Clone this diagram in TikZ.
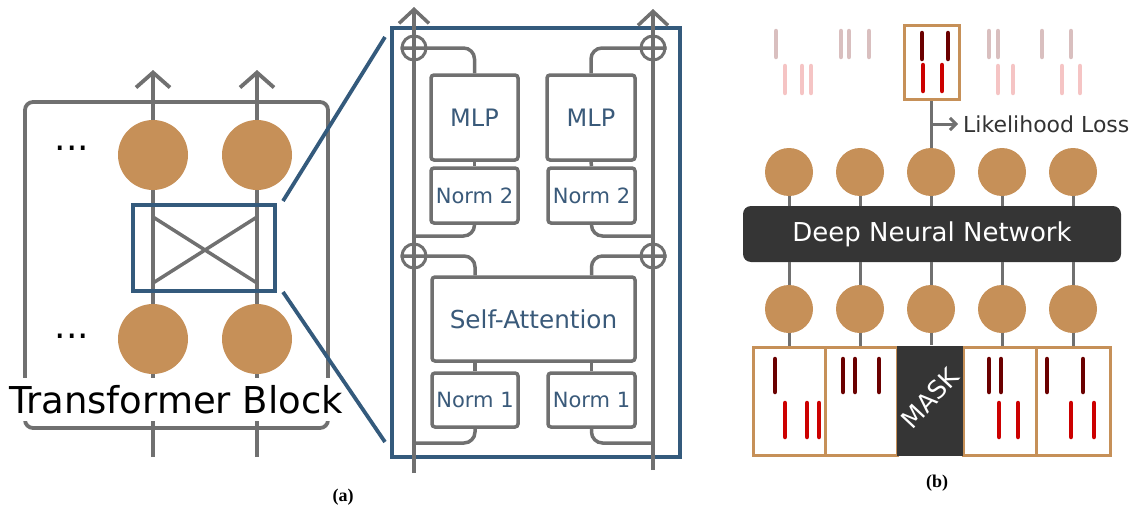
\documentclass[tikz,border=0pt]{standalone}
\usepackage{fontspec}
\setmainfont{DejaVu Sans}
\newfontfamily\labfont{Liberation Serif}
\usetikzlibrary{arrows.meta,calc}
\definecolor{lg}{RGB}{112,112,112}
\definecolor{tanc}{RGB}{198,144,88}
\definecolor{navy}{RGB}{52,90,124}
\definecolor{tb}{RGB}{58,90,122}
\definecolor{dk}{RGB}{53,53,53}
\definecolor{dred}{RGB}{107,0,0}
\definecolor{rred}{RGB}{204,0,0}
\definecolor{fdred}{RGB}{217,191,191}
\definecolor{frred}{RGB}{245,196,196}
\newcommand{\fs}[1]{\fontsize{#1}{#1}\selectfont}
\tikzset{
  gline/.style={draw=lg, line width=3.8pt},
  mline/.style={draw=lg, line width=3.5pt},
  rline/.style={draw=lg, line width=3pt},
  bline/.style={draw=navy, line width=3.8pt},
  bigtok/.style={circle, fill=tanc, minimum size=70pt, inner sep=0pt},
  tok/.style={circle, fill=tanc, minimum size=48pt, inner sep=0pt},
  mbox/.style={draw=lg, line width=3.5pt, rounded corners=3pt, text=tb, inner sep=0pt, fill=white},
  opl/.style={circle, draw=lg, line width=3pt, minimum size=24pt, inner sep=0pt},
  tokbox/.style={draw=tanc, line width=3pt, fill=white, inner sep=0pt, minimum width=72pt, minimum height=108pt},
  bar/.style={line width=4.5pt, line cap=round},
  upbarb/.style={-{Straight Barb[length=15pt,width=34pt]}},
  upbarbm/.style={-{Straight Barb[length=14pt,width=30pt]}},
}
\begin{document}
\begin{tikzpicture}[x=1pt,y=-1pt]
\path[use as bounding box] (0,0) rectangle (1135,514);

%% ---------------- panel (a), left ----------------
\node[draw=lg, line width=3.8pt, rounded corners=8pt, minimum width=303pt, minimum height=326pt, inner sep=0pt] (tblock) at (176.5,265) {};
\coordinate (a1b) at (153,457); \coordinate (a1t) at (153,70);
\coordinate (a2b) at (257,457); \coordinate (a2t) at (257,70);
\draw[gline, upbarb] (a1b) -- (a1t);
\draw[gline, upbarb] (a2b) -- (a2t);
\coordinate (x1) at (153,217); \coordinate (x2) at (257,283);
\coordinate (x3) at (153,283); \coordinate (x4) at (257,217);
\draw[gline, line width=3.5pt] (x1) -- (x2);
\draw[gline, line width=3.5pt] (x3) -- (x4);
\node[bline, minimum width=142pt, minimum height=86pt, inner sep=0pt] (xbox) at (204,248) {};
\node[bigtok] (c1) at (153,155) {};
\node[bigtok] (c2) at (257,155) {};
\node[bigtok] (c3) at (153,339) {};
\node[bigtok] (c4) at (257,339) {};
\node[font=\fs{36}] (d1) at (72,148) {...};
\node[font=\fs{36}] (d2) at (72,336) {...};
\node[fill=white, font=\fs{37}, inner xsep=1pt, inner ysep=7pt] (tbl) at (176,399.5) {Transformer Block};

%% ---------------- panel (a), right ----------------
\node[bline, minimum width=288pt, minimum height=429pt, inner sep=0pt] (blk) at (536,242.5) {};
\coordinate (z1) at (283,201); \coordinate (z2) at (385,37);
\coordinate (z3) at (283,292); \coordinate (z4) at (385,442);
\draw[bline] (z1) -- (z2);
\draw[bline] (z3) -- (z4);

\coordinate (L0) at (414,473); \coordinate (L1) at (414,7);
\coordinate (R0) at (653,470); \coordinate (R1) at (653,9);
\draw[mline, upbarbm] (L0) -- (L1);
\draw[mline, upbarbm] (R0) -- (R1);

\node[opl] (p1) at (414,48) {};
\node[opl] (p2) at (653,48) {};
\node[opl] (p3) at (414,256) {};
\node[opl] (p4) at (653,256) {};

\node[mbox, minimum width=87pt, minimum height=85pt, font=\fs{24}] (mlp1) at (474.5,117.5) {MLP};
\node[mbox, minimum width=88pt, minimum height=85pt, font=\fs{24}] (mlp2) at (591,117.5) {MLP};
\node[mbox, minimum width=87pt, minimum height=55pt, font=\fs{21}] (n2a) at (474.5,195.5) {Norm 2};
\node[mbox, minimum width=87pt, minimum height=55pt, font=\fs{21}] (n2b) at (591.5,195.5) {Norm 2};
\node[mbox, minimum width=203pt, minimum height=84pt, font=\fs{24.7}] (sa) at (533.5,319) {Self-Attention};
\node[mbox, minimum width=86pt, minimum height=54pt, font=\fs{21}] (n1a) at (475,400) {Norm 1};
\node[mbox, minimum width=87pt, minimum height=54pt, font=\fs{21}] (n1b) at (591.5,400) {Norm 1};

\draw[mline] (mlp1.south) -- (n2a.north);
\draw[mline] (mlp2.south) -- (n2b.north);
\draw[mline] (n1a.north) -- (n1a.north |- sa.south);
\draw[mline] (n1b.north) -- (n1b.north |- sa.south);

\draw[mline, rounded corners=11pt] (p1.west) -| (mlp1.north);
\draw[mline, rounded corners=11pt] (p2.east) -| (mlp2.north);
\draw[mline, rounded corners=11pt] (p3.west) -| (n1a.north |- sa.north);
\draw[mline, rounded corners=11pt] (p4.east) -| (n1b.north |- sa.north);

\coordinate (ja) at (414,236); \coordinate (jb) at (653,236);
\coordinate (jc) at (414,443); \coordinate (jd) at (653,443);
\draw[mline, rounded corners=11pt] (n2a.south) |- (ja);
\draw[mline, rounded corners=11pt] (n2b.south) |- (jb);
\draw[mline, rounded corners=11pt] (n1a.south) |- (jc);
\draw[mline, rounded corners=11pt] (n1b.south) |- (jd);

%% ---------------- panel (b) ----------------
\node[draw=tanc, line width=3pt, fill=white, minimum width=55pt, minimum height=74pt, inner sep=0pt] (sel) at (931.5,62) {};

\foreach \i/\x in {1/789,2/860,3/931,4/1002,5/1073}{
  \node[tok] (t\i) at (\x,172) {};
  \node[tok] (b\i) at (\x,309) {};
}
\node[fill=dk, rounded corners=8pt, minimum width=378pt, minimum height=56pt, inner sep=0pt, text=white, font=\fs{26}] (dnn) at (932,234) {Deep Neural Network};

\node[tokbox] (k1) at (789,401) {};
\node[tokbox] (k2) at (861,401) {};
\node[tokbox, minimum width=73pt] (k4) at (999.5,401) {};
\node[tokbox, minimum width=74pt] (k5) at (1073,401) {};
\node[fill=dk, minimum width=66pt, minimum height=110pt, inner sep=0pt] (mask) at (930,400.5) {};
\node[text=white, font=\fs{25}, rotate=47, inner sep=0pt] (masktxt) at (930,398) {MASK};

\foreach \i in {1,2,3,4,5}{
  \draw[rline] (t\i.south) -- (t\i.south |- dnn.north);
  \draw[rline] (b\i.north |- dnn.south) -- (b\i.north);
}
\draw[rline] (b1.south) -- (b1.south |- k1.north);
\draw[rline] (b2.south) -- (b2.south |- k2.north);
\draw[rline] (b3.south) -- (b3.south |- mask.north);
\draw[rline] (b4.south) -- (b4.south |- k4.north);
\draw[rline] (b5.south) -- (b5.south |- k5.north);

\draw[rline] (t3.north) -- (t3.north |- sel.south);
\node[anchor=west, inner xsep=5pt, inner ysep=0pt, text={rgb,255:red,51;green,51;blue,51}, font=\fs{22}] (loss) at (958,124) {Likelihood Loss};
\coordinate (lj) at (931,124);
\draw[rline, -{Straight Barb[length=6pt,width=12pt]}] (lj) -- (loss.west);

% bars in selected box
\foreach \x in {922,948} \draw[bar, dred] (\x,33) -- (\x,59);
\foreach \x in {923,942} \draw[bar, rred] (\x,65) -- (\x,91);
% faded bars
\foreach \x in {776,841,849,869,989,998,1042,1071} \draw[bar, fdred] (\x,31) -- (\x,57);
\foreach \x in {785,802,811,998,1013,1062,1080} \draw[bar, frred] (\x,66) -- (\x,93);
% bars in bottom boxes
\foreach \x in {775,843,855,879,989,1001,1047,1083} \draw[bar, dred] (\x,359) -- (\x,392);
\foreach \x in {785,807,819,999,1018,1071,1094} \draw[bar, rred] (\x,403) -- (\x,437);

%% captions
\node[font=\labfont\bfseries\fs{18}] (capa) at (343,497) {(a)};
\node[font=\labfont\bfseries\fs{18}] (capb) at (937,483) {(b)};
\end{tikzpicture}
\end{document}
